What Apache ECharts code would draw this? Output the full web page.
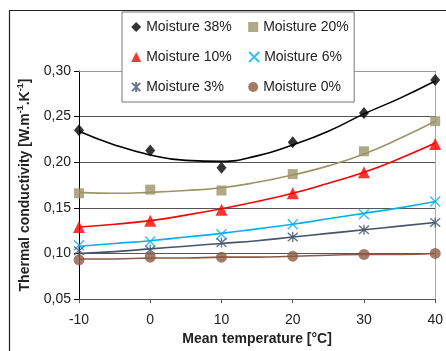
<!DOCTYPE html>
<html>
<head>
<meta charset="utf-8">
<script src="https://cdn.jsdelivr.net/npm/echarts@6/dist/echarts.min.js"></script>
<style>
  html, body { margin: 0; padding: 0; background: #fff; }
  #chart { width: 446px; height: 351px; }
</style>
</head>
<body>
<div id="chart"></div>
<script>
// temperatures (x) and the measured values per moisture level
const temps = [-10, 0, 10, 20, 30, 40];
const names = ['Moisture 38%', 'Moisture 20%', 'Moisture 10%', 'Moisture 6%', 'Moisture 3%', 'Moisture 0%'];
const m38 = [0.235, 0.213, 0.194, 0.222, 0.254, 0.290];
const m20 = [0.166, 0.170, 0.169, 0.187, 0.212, 0.245];
const m10 = [0.129, 0.136, 0.148, 0.166, 0.189, 0.220];
const m6 = [0.109, 0.113, 0.121, 0.132, 0.143, 0.157];
const m3 = [0.103, 0.104, 0.112, 0.118, 0.126, 0.134];
const m0 = [0.093, 0.096, 0.096, 0.097, 0.099, 0.100];
// trend curves
const trendX = [-10, -5, 0, 5, 10, 15, 20, 25, 30, 35, 40];
const t38 = [0.234, 0.219, 0.208, 0.202, 0.201, 0.207, 0.219, 0.234, 0.253, 0.270, 0.289];
const t20 = [0.167, 0.166, 0.167, 0.169, 0.172, 0.178, 0.186, 0.196, 0.209, 0.226, 0.245];
const t10 = [0.129, 0.132, 0.136, 0.142, 0.149, 0.157, 0.166, 0.177, 0.189, 0.204, 0.221];
const t6 = [0.108, 0.111, 0.114, 0.118, 0.122, 0.127, 0.132, 0.138, 0.144, 0.150, 0.157];
const t3 = [0.100, 0.102, 0.105, 0.108, 0.111, 0.114, 0.118, 0.122, 0.126, 0.130, 0.134];
const t0 = [0.094, 0.094, 0.095, 0.095, 0.096, 0.096, 0.097, 0.098, 0.099, 0.099, 0.100];

const colors = ['#000000', '#9a9566', '#ff0000', '#00b0f0', '#44546a', '#8b5a45'];
const crossPath = 'path://M0,0L10,10M10,0L0,10';
const starPath = 'path://M0,0L10,10M10,0L0,10M5,-1L5,11';

const font = 'Liberation Sans, Arial, sans-serif';

function pairs(xs, ys) {
    return xs.map((x, i) => [x, ys[i]]);
}

const points = [m38, m20, m10, m6, m3, m0];
const trends = [t38, t20, t10, t6, t3, t0];
const symbols = [
    {symbol: 'diamond', size: [10, 12]},
    {symbol: 'rect', size: 10},
    {symbol: 'triangle', size: 12},
    {symbol: crossPath, size: 10, stroke: true},
    {symbol: starPath, size: 10, stroke: true},
    {symbol: 'circle', size: 11},
];

const series = [];
trends.forEach((t, i) => {
    series.push({
        name: 'trend ' + i,
        type: 'line',
        smooth: 0.5,
        showSymbol: false,
        silent: true,
        data: pairs(trendX, t),
        lineStyle: {color: colors[i], width: 1.6},
        z: 2,
    });
});
points.forEach((p, i) => {
    const s = symbols[i];
    series.push({
        name: names[i],
        type: 'scatter',
        symbol: s.symbol,
        symbolSize: s.size,
        data: pairs(temps, p),
        itemStyle: s.stroke
            ? {color: 'rgba(0,0,0,0)', borderColor: colors[i], borderWidth: 1.4}
            : {color: colors[i]},
        z: 3,
    });
});

const chart = echarts.init(document.getElementById('chart'));
chart.setOption({
    animation: false,
    backgroundColor: '#fff',
    textStyle: {fontFamily: font},
    graphic: [{
        type: 'rect',
        left: 7, top: 8,
        shape: {width: 600, height: 600},
        style: {fill: 'none', stroke: '#222', lineWidth: 1.2},
        silent: true,
    }],
    grid: {left: 79, right: 9, top: 71, bottom: 48},
    legend: {
        data: names,
        left: 122,
        top: 12,
        width: 220,
        padding: [8, 4, 8, 9],
        itemWidth: 10,
        itemHeight: 10,
        itemGap: 16,
        backgroundColor: '#fff',
        borderColor: '#777',
        borderWidth: 1,
        borderRadius: 0,
        textStyle: {fontSize: 14, color: '#222', width: 86, lineHeight: 14, fontFamily: font},
        z: 10,
    },
    xAxis: [{
        type: 'value',
        min: -10, max: 40, interval: 10,
        name: 'Mean temperature [°C]',
        nameLocation: 'middle',
        nameGap: 32,
        nameTextStyle: {fontSize: 14, fontWeight: 'bold', color: '#222', fontFamily: font},
        axisLine: {onZero: false, lineStyle: {color: '#555', width: 1}},
        axisTick: {show: true, length: 4, lineStyle: {color: '#555'}},
        axisLabel: {fontSize: 14, color: '#222', margin: 14, fontFamily: font},
        splitLine: {show: false},
    }, {
        type: 'value',
        position: 'top',
        min: -10, max: 40,
        axisLine: {show: true, onZero: false, lineStyle: {color: '#999'}},
        axisTick: {show: false},
        axisLabel: {show: false},
        splitLine: {show: false},
    }],
    yAxis: [{
        type: 'value',
        min: 0.05, max: 0.30, interval: 0.05,
        name: '{b|Thermal conductivity [W.m}{s|-1}{b|.K}{s|-1}{b|]}',
        nameLocation: 'middle',
        nameRotate: 90,
        nameGap: 45,
        nameTextStyle: {
            rich: {
                b: {fontSize: 14, fontWeight: 'bold', color: '#222', lineHeight: 18, fontFamily: font},
                s: {fontSize: 9, fontWeight: 'bold', color: '#222', lineHeight: 18, verticalAlign: 'top', fontFamily: font},
            },
        },
        axisLine: {show: true, onZero: false, lineStyle: {color: '#000', width: 1}},
        axisTick: {show: true, length: 5, lineStyle: {color: '#000'}},
        axisLabel: {
            fontSize: 14, color: '#222', margin: 8, fontFamily: font,
            formatter: (v) => v.toFixed(2).replace('.', ','),
        },
        splitLine: {show: true, lineStyle: {color: '#555', width: 1}},
    }, {
        type: 'value',
        position: 'right',
        min: 0.05, max: 0.30,
        axisLine: {show: true, onZero: false, lineStyle: {color: '#aaa'}},
        axisTick: {show: false},
        axisLabel: {show: false},
        splitLine: {show: false},
    }],
    series,
});
</script>
</body>
</html>
